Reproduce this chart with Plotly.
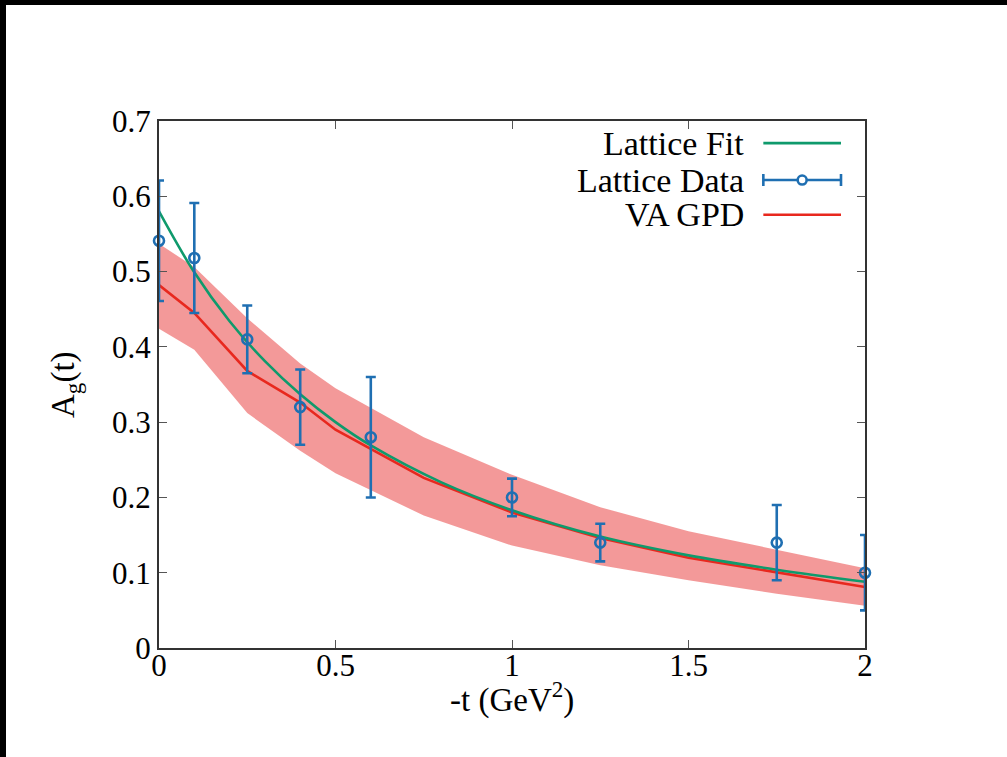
import plotly.graph_objects as go

# Lattice data points for A_g(t)
t_data = [0.0, 0.1, 0.25, 0.4, 0.6, 1.0, 1.25, 1.75, 2.0]
a_data = [0.541, 0.518, 0.410, 0.320, 0.280, 0.200, 0.140, 0.140, 0.100]
a_err = [0.080, 0.073, 0.045, 0.050, 0.080, 0.025, 0.025, 0.050, 0.050]

# Lattice fit curve
t_fit = [0.0, 0.1, 0.2, 0.3, 0.4, 0.5, 0.6, 0.8, 1.0, 1.25, 1.5, 1.75, 2.0]
a_fit = [0.580, 0.499, 0.434, 0.381, 0.337, 0.300, 0.269, 0.220, 0.183, 0.148, 0.123, 0.104, 0.088]

# VA GPD central value and uncertainty band
t_gpd = [0.0, 0.1, 0.25, 0.4, 0.5, 0.75, 1.0, 1.25, 1.5, 1.75, 2.0]
a_gpd = [0.482, 0.445, 0.368, 0.326, 0.290, 0.226, 0.180, 0.146, 0.120, 0.100, 0.081]
a_gpd_hi = [0.537, 0.506, 0.438, 0.378, 0.345, 0.280, 0.230, 0.187, 0.155, 0.130, 0.106]
a_gpd_lo = [0.424, 0.396, 0.312, 0.262, 0.232, 0.176, 0.136, 0.110, 0.090, 0.072, 0.056]

GREEN = "#0f9a6c"
BLUE = "#1f6fb2"
RED = "#e8281e"
BAND = "rgba(236, 90, 90, 0.62)"
FONT = "Liberation Serif"

fig = go.Figure()

fig.add_trace(go.Scatter(x=t_gpd, y=a_gpd_lo, mode="lines", line=dict(width=0),
                         hoverinfo="skip", showlegend=False))
fig.add_trace(go.Scatter(x=t_gpd, y=a_gpd_hi, mode="lines", line=dict(width=0),
                         fill="tonexty", fillcolor=BAND, showlegend=False))
fig.add_trace(go.Scatter(x=t_gpd, y=a_gpd, mode="lines", name="VA GPD",
                         line=dict(color=RED, width=2.6), showlegend=False))
fig.add_trace(go.Scatter(x=t_fit, y=a_fit, mode="lines", name="Lattice Fit",
                         line=dict(color=GREEN, width=2.6, shape="spline"),
                         showlegend=False))
fig.add_trace(go.Scatter(x=t_data, y=a_data, mode="markers", name="Lattice Data",
                         marker=dict(symbol="circle-open", size=10, color=BLUE,
                                     line=dict(width=2.6, color=BLUE)),
                         error_y=dict(type="data", array=a_err, color=BLUE,
                                      thickness=2.6, width=5),
                         cliponaxis=False, showlegend=False))

axis_common = dict(showline=True, linecolor="#333333", linewidth=2.2, mirror="ticks",
                   ticks="inside", ticklen=8, tickwidth=1.4, tickcolor="#555555",
                   showgrid=False, zeroline=False,
                   tickfont=dict(family=FONT, size=31, color="black"))

fig.update_xaxes(range=[0, 2], dtick=0.5, tick0=0, ticklabelstandoff=-11, **axis_common)
fig.update_yaxes(range=[0, 0.7], dtick=0.1, tick0=0, **axis_common)

# page geometry (pixels) and helpers mapping pixel positions to paper fractions
L, R, T, B, W, H = 159, 142, 121, 109, 1007, 757
pw, ph = W - L - R, H - T - B
def px_x(p):
    return (p - L) / pw
def px_y(p):
    return (H - B - p) / ph

shapes = []
annotations = []

# axis titles
annotations.append(dict(text="-t (GeV<sup>2</sup>)", x=0.5, y=px_y(697),
                        xref="paper", yref="paper", xanchor="center", yanchor="middle",
                        showarrow=False, font=dict(family=FONT, size=33, color="black")))
annotations.append(dict(text="A<sub>g</sub>(t)", x=px_x(65), y=px_y(385), textangle=-90,
                        xref="paper", yref="paper", xanchor="center", yanchor="middle",
                        showarrow=False, font=dict(family=FONT, size=33, color="black")))

# Legend drawn at the upper right: label on the left, sample on the right
legend_rows = [("Lattice Fit", GREEN, 0.958, False),
               ("Lattice Data", BLUE, 0.888, True),
               ("VA GPD", RED, 0.822, False)]
x_text, x0, x1, xc = 0.832, 0.856, 0.966, 0.911
for label, color, yy, with_marker in legend_rows:
    annotations.append(dict(text=label, x=x_text, y=yy, xref="paper", yref="paper",
                            xanchor="right", yanchor="middle", showarrow=False,
                            font=dict(family=FONT, size=34, color="black")))
    shapes.append(dict(type="line", xref="paper", yref="paper", x0=x0, x1=x1,
                       y0=yy, y1=yy, line=dict(color=color, width=2.6)))
    if with_marker:
        for xe in (x0, x1):
            shapes.append(dict(type="line", xref="paper", yref="paper",
                               xsizemode="scaled", ysizemode="pixel", yanchor=yy,
                               x0=xe, x1=xe, y0=-6, y1=6,
                               line=dict(color=color, width=2.6)))
        shapes.append(dict(type="circle", xref="paper", yref="paper",
                           xsizemode="pixel", ysizemode="pixel", xanchor=xc, yanchor=yy,
                           x0=-4.5, x1=4.5, y0=-4.5, y1=4.5,
                           fillcolor="white", line=dict(color=color, width=2.6)))

# dark strips along the top and left edges of the page
shapes.append(dict(type="rect", xref="paper", yref="paper", layer="above",
                   x0=px_x(0), x1=px_x(W), y0=px_y(0), y1=px_y(5),
                   fillcolor="black", line=dict(width=0)))
shapes.append(dict(type="rect", xref="paper", yref="paper", layer="above",
                   x0=px_x(0), x1=px_x(6), y0=px_y(0), y1=px_y(H),
                   fillcolor="black", line=dict(width=0)))

fig.update_layout(width=W, height=H, margin=dict(l=L, r=R, t=T, b=B),
                  paper_bgcolor="white", plot_bgcolor="white",
                  shapes=shapes, annotations=annotations, showlegend=False)

fig.write_html("out.html")
